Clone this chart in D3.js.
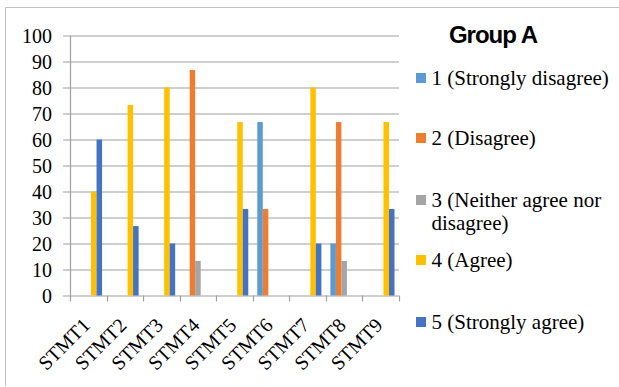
<!DOCTYPE html>
<html>
<head>
<meta charset="utf-8">
<script src="https://cdn.jsdelivr.net/npm/d3@7/dist/d3.min.js"></script>
<style>
  html, body { margin: 0; padding: 0; background: #fff; }
  svg { display: block; }
  .serif { font-family: "Liberation Serif", "Times New Roman", "DejaVu Serif", serif; }
  .title { font-family: "Liberation Sans", Arial, sans-serif; }
</style>
</head>
<body>
<svg id="chart" width="619" height="387"></svg>
<script>
// Survey responses (percent) per statement, Group A
const categories = ["STMT1", "STMT2", "STMT3", "STMT4", "STMT5", "STMT6", "STMT7", "STMT8", "STMT9"];
const seriesNames = ["1 (Strongly disagree)", "2 (Disagree)", "3 (Neither agree nor disagree)", "4 (Agree)", "5 (Strongly agree)"];
const legendLines = [["1 (Strongly disagree)"], ["2 (Disagree)"], ["3 (Neither agree nor", "disagree)"], ["4 (Agree)"], ["5 (Strongly agree)"]];
const stronglyDisagree = [0, 0, 0, 0, 0, 66.7, 0, 20, 0];
const disagree         = [0, 0, 0, 86.7, 0, 33.3, 0, 66.7, 0];
const neither          = [0, 0, 0, 13.3, 0, 0, 0, 13.3, 0];
const agree            = [40, 73.3, 80, 0, 66.7, 0, 80, 0, 66.7];
const stronglyAgree    = [60, 26.7, 20, 0, 33.3, 0, 20, 0, 33.3];
const yTicks = [0, 10, 20, 30, 40, 50, 60, 70, 80, 90, 100];
const colors = ["#5B9BD5", "#ED7D31", "#A5A5A5", "#FFC000", "#4472C4"];

const seriesValues = [stronglyDisagree, disagree, neither, agree, stronglyAgree];

const svg = d3.select("#chart");

// outer frame (left and top edges visible)
svg.append("path")
  .attr("d", "M5.5,386 V7.5 H619")
  .attr("fill", "none").attr("stroke", "#c0c0c0").attr("stroke-width", 1);

const plot = { left: 70, right: 399, top: 35.5, bottom: 295.5 };

const x0 = d3.scaleBand().domain(categories).range([plot.left, plot.right]).padding(0);
const bw = x0.bandwidth();
const x1 = d3.scaleBand().domain(d3.range(seriesNames.length))
  .range([bw * 0.123, bw * 0.877]).padding(0);
const y = d3.scaleLinear().domain([0, 100]).range([plot.bottom, plot.top]);

// horizontal gridlines with outward ticks
const yAxis = d3.axisLeft(y).tickValues(yTicks).tickSize(-(plot.right - plot.left)).tickSizeOuter(0).tickPadding(18);
const gy = svg.append("g").attr("transform", `translate(${plot.left},0)`).call(yAxis)
  .attr("font-family", null).attr("font-size", null).attr("class", "serif");
gy.select(".domain").remove();
gy.selectAll(".tick line").attr("stroke", "#a0a0a0").attr("stroke-width", 1.2)
  .attr("x1", -7);
gy.selectAll(".tick text").style("font-size", "20px")
  .attr("fill", "#000").attr("dy", "0.34em");

// vertical axis line
svg.append("line")
  .attr("x1", plot.left + 0.5).attr("x2", plot.left + 0.5)
  .attr("y1", plot.top).attr("y2", plot.bottom + 6)
  .attr("stroke", "#a0a0a0").attr("stroke-width", 1.2);

// category boundary ticks
svg.append("g").selectAll("line")
  .data(categories.map((c, i) => i + 1))
  .join("line")
  .attr("x1", i => Math.round(plot.left + i * bw) + 0.5)
  .attr("x2", i => Math.round(plot.left + i * bw) + 0.5)
  .attr("y1", plot.bottom).attr("y2", plot.bottom + 6)
  .attr("stroke", "#a0a0a0").attr("stroke-width", 1.2);

// bars
const groups = svg.append("g").selectAll("g")
  .data(categories)
  .join("g")
  .attr("transform", d => `translate(${x0(d)},0)`);
groups.selectAll("rect")
  .data((d, ci) => seriesValues.map((vals, si) => ({ si, v: vals[ci] })).filter(o => o.v > 0))
  .join("rect")
  .attr("x", d => x1(d.si))
  .attr("width", x1.bandwidth())
  .attr("y", d => y(d.v))
  .attr("height", d => y(0) - y(d.v))
  .attr("fill", d => colors[d.si]);

// rotated category labels
svg.append("g").attr("class", "serif").selectAll("text")
  .data(categories)
  .join("text")
  .attr("transform", d => `translate(${x0(d) + bw / 2 + 3},${plot.bottom + 31}) rotate(-45)`)
  .attr("text-anchor", "end")
  .style("font-size", "20px")
  .attr("fill", "#000")
  .text(d => d);

// legend title
svg.append("text")
  .attr("class", "title")
  .attr("x", 493).attr("y", 43)
  .attr("text-anchor", "middle")
  .style("font-weight", "bold").style("font-size", "24px")
  .attr("letter-spacing", -1)
  .attr("fill", "#000")
  .text("Group A");

// legend entries
const legendY = [78, 138, 200, 260, 322];
const leg = svg.append("g").attr("class", "serif").selectAll("g")
  .data(seriesNames)
  .join("g")
  .attr("transform", (d, i) => `translate(416,${legendY[i]})`);
leg.append("rect")
  .attr("x", 0).attr("y", -5).attr("width", 10).attr("height", 10)
  .attr("fill", (d, i) => colors[i]);
leg.append("text")
  .style("font-size", "21px").attr("fill", "#000")
  .selectAll("tspan")
  .data((d, i) => legendLines[i])
  .join("tspan")
  .attr("x", 15.5)
  .attr("y", (d, j) => j * 23)
  .attr("dy", "0.34em")
  .text(d => d);
</script>
</body>
</html>
